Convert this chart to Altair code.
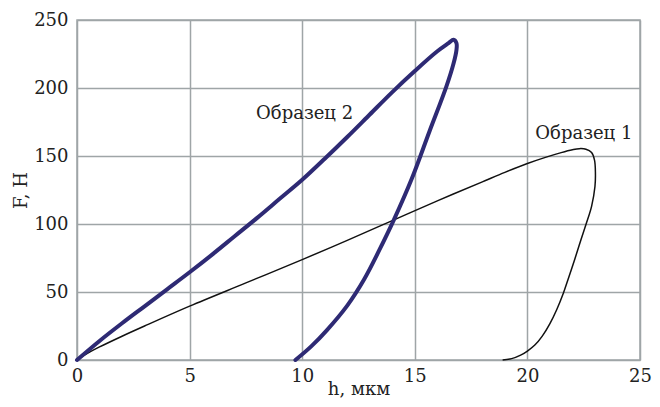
import altair as alt
import pandas as pd

# Образец 1 (thin black loop)
h1 = [0, 0.5, 1.0, 2.0, 3.0, 5.0, 7.5, 10.0, 12.0, 14.0, 16.0, 18.0, 19.0, 20.0, 20.8, 21.5, 22.0, 22.3, 22.6, 22.85, 22.98, 23.02, 23.0, 22.85, 22.6, 22.35, 22.1, 21.8, 21.6, 21.3, 21.0, 20.66, 20.33, 20.0, 19.7, 19.3, 18.9]
F1 = [0, 5.2, 9.6, 17.5, 25, 39.6, 56.7, 73.8, 88, 102.5, 117, 131, 138, 144.5, 149, 152.5, 154.6, 155.4, 155, 152.5, 147, 138, 127.6, 113, 99.6, 87, 73.9, 59, 49.3, 37, 26.8, 17.6, 11.0, 6.6, 3.6, 1.0, 0]

# Образец 2 (thick blue loop)
h2 = [0, 1, 2, 3, 4, 5, 6, 7, 8, 9, 10, 11, 12, 13, 14, 15, 16, 16.5, 16.72, 16.85, 16.85, 16.72, 16.4, 15.65, 14.86, 14.07, 13.4, 12.74, 12.0, 11.1, 10.4, 9.7]
F2 = [0, 14, 27, 39.5, 52, 64.5, 77.5, 91, 104.5, 118.5, 132.5, 148, 164, 180.5, 197, 212.5, 227, 233, 235.5, 233, 228, 218, 201, 168, 133, 103, 80, 59, 40, 22, 10, 0]

label_text = ["Образец 2", "Образец 1"]
label_h = [7.95, 20.35]
label_F = [181, 166]

df1 = pd.DataFrame({"h": h1, "F": F1, "i": range(len(h1))})
df2 = pd.DataFrame({"h": h2, "F": F2, "i": range(len(h2))})
dfl = pd.DataFrame({"t": label_text, "h": label_h, "F": label_F})

FONT = "DejaVu Serif"
GRID = "#9fa5a7"

xs = alt.Scale(domain=[0, 25], nice=False)
ys = alt.Scale(domain=[0, 250], nice=False)

xax = alt.Axis(values=[0, 5, 10, 15, 20, 25], title="h, мкм", grid=True, ticks=False,
               labelPadding=7, titlePadding=-5, labelFlush=False)
yax = alt.Axis(values=[0, 50, 100, 150, 200, 250], title="F, Н", grid=True, ticks=False,
               labelPadding=9, titlePadding=3, labelFlush=False)

base_x = alt.X("h:Q", scale=xs, axis=xax)
base_y = alt.Y("F:Q", scale=ys, axis=yax)

line1 = alt.Chart(df1).mark_line(color="#111111", strokeWidth=1.5, interpolate="catmull-rom").encode(
    x=base_x, y=base_y, order="i:O")
line2 = alt.Chart(df2).mark_line(color="#2e2a74", strokeWidth=4, interpolate="catmull-rom",
                                 strokeCap="round", strokeJoin="round").encode(
    x=alt.X("h:Q", scale=xs), y=alt.Y("F:Q", scale=ys), order="i:O")
labels = alt.Chart(dfl).mark_text(align="left", baseline="middle", font=FONT, fontSize=18,
                                  color="#222222").encode(
    x=alt.X("h:Q", scale=xs), y=alt.Y("F:Q", scale=ys), text="t:N")

chart = alt.layer(line1, line2, labels).properties(
    width=563, height=340,
    autosize=alt.AutoSizeParams(type="none"),
    padding={"left": 69, "top": 12, "right": 12, "bottom": 39}
).configure_view(stroke=GRID, strokeWidth=1.5).configure_axis(
    gridColor=GRID, gridWidth=1.5, gridOpacity=1, domain=False,
    labelFont=FONT, labelFontSize=18, labelColor="#222222",
    titleFont=FONT, titleFontSize=18, titleFontWeight="normal", titleColor="#222222"
)

chart.save("out.html", embed_options={"renderer": "svg", "actions": False})
